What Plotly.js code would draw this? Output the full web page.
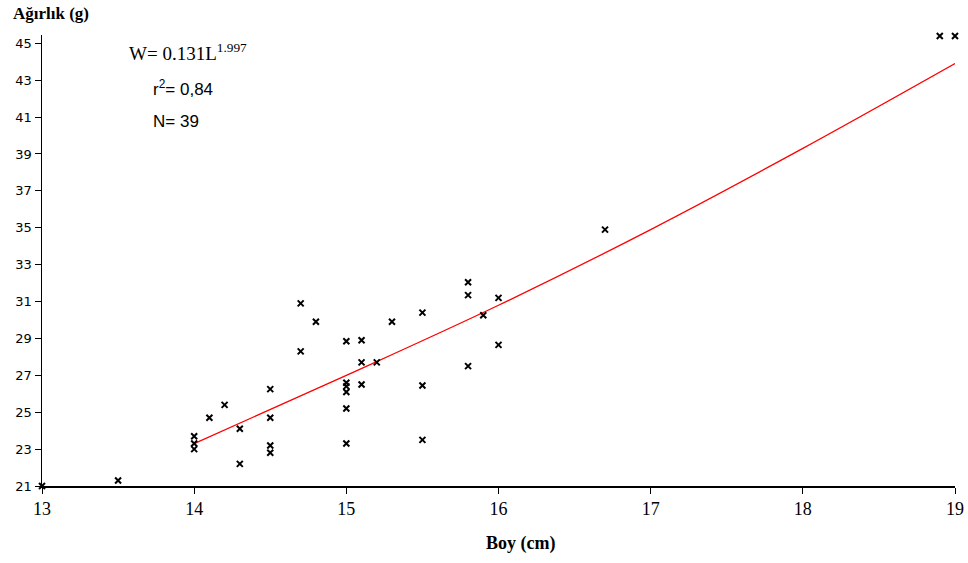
<!DOCTYPE html>
<html>
<head>
<meta charset="utf-8">
<script src="https://cdn.plot.ly/plotly-3.0.1.min.js"></script>
<style>html,body{margin:0;padding:0;background:#fff;}#chart{width:968px;height:563px;}</style>
</head>
<body>
<div id="chart"></div>
<script>
// Observed length (cm) and weight (g)
const boy = [13.0, 13.5, 14.0, 14.0, 14.0, 14.1, 14.2, 14.3, 14.3, 14.5, 14.5, 14.5, 14.5,
             14.7, 14.7, 14.8, 15.0, 15.0, 15.0, 15.0, 15.0, 15.0, 15.1, 15.1, 15.1, 15.2,
             15.3, 15.5, 15.5, 15.5, 15.8, 15.8, 15.8, 15.9, 16.0, 16.0, 16.7, 18.9, 19.0];
const agirlik = [21.0, 21.3, 23.7, 23.3, 23.0, 24.7, 25.4, 24.1, 22.2, 26.25, 24.7, 23.2, 22.8,
                 30.9, 28.3, 29.9, 28.85, 26.6, 26.4, 26.1, 25.2, 23.3, 28.9, 27.7, 26.5, 27.7,
                 29.9, 30.4, 26.45, 23.5, 32.05, 31.35, 27.5, 30.26, 31.2, 28.65, 34.9, 45.4, 45.4];
// Power trend line
const fitBoy = [14, 15, 16, 17, 18, 19];
const fitAgirlik = [23.3, 27.0, 30.8, 34.9, 39.3, 43.9];

const xTicks = [13, 14, 15, 16, 17, 18, 19];
const yTicks = [21, 23, 25, 27, 29, 31, 33, 35, 37, 39, 41, 43, 45];

const traces = [
  {
    x: fitBoy, y: fitAgirlik, type: 'scatter', mode: 'lines',
    line: {color: '#ff0000', width: 1.3, shape: 'spline'},
    hoverinfo: 'skip'
  },
  {
    x: boy, y: agirlik, type: 'scatter', mode: 'markers',
    marker: {symbol: 'x-thin', size: 6, color: '#000', line: {color: '#000', width: 2}},
    cliponaxis: false
  }
];

const layout = {
  width: 968, height: 563,
  margin: {l: 42, r: 13, t: 35, b: 77},
  paper_bgcolor: '#fff', plot_bgcolor: '#fff',
  showlegend: false,
  xaxis: {
    range: [13, 19], tickvals: xTicks, ticktext: xTicks.map(String),
    showgrid: false, zeroline: false, showline: true, linecolor: '#000', linewidth: 1.5,
    ticks: 'outside', ticklen: 6, tickwidth: 1, tickcolor: '#000',
    tickfont: {family: 'Liberation Serif, Times New Roman, serif', size: 18, color: '#000'}
  },
  yaxis: {
    range: [21, 45.45], tickvals: yTicks, ticktext: yTicks.map(String),
    showgrid: false, zeroline: false, showline: true, linecolor: '#000', linewidth: 1.5,
    ticks: 'outside', ticklen: 6, tickwidth: 1, tickcolor: '#000',
    tickfont: {family: 'DejaVu Sans, Verdana, sans-serif', size: 13, color: '#000'}
  },
  annotations: [
    {xref: 'paper', yref: 'paper', x: (11-42)/913, y: 1 + 21/451, xanchor: 'left', yanchor: 'middle',
     text: '<b>Ağırlık (g)</b>', showarrow: false,
     font: {family: 'Liberation Serif, Times New Roman, serif', size: 17, color: '#000'}},
    {xref: 'paper', yref: 'paper', x: (520-42)/913, y: -(543-486)/451, xanchor: 'center', yanchor: 'middle',
     text: '<b>Boy (cm)</b>', showarrow: false,
     font: {family: 'Liberation Serif, Times New Roman, serif', size: 18, color: '#000'}},
    {xref: 'paper', yref: 'paper', x: (127-42)/913, y: (486-52)/451, xanchor: 'left', yanchor: 'middle',
     text: 'W= 0.131L<sup>1.997</sup>', showarrow: false,
     font: {family: 'Liberation Serif, Times New Roman, serif', size: 19, color: '#000'}},
    {xref: 'paper', yref: 'paper', x: (151-42)/913, y: (486-88)/451, xanchor: 'left', yanchor: 'middle',
     text: 'r<sup>2</sup>= 0,84', showarrow: false,
     font: {family: 'Liberation Sans, Arial, sans-serif', size: 17, color: '#000'}},
    {xref: 'paper', yref: 'paper', x: (151-42)/913, y: (486-122)/451, xanchor: 'left', yanchor: 'middle',
     text: 'N= 39', showarrow: false,
     font: {family: 'Liberation Sans, Arial, sans-serif', size: 17, color: '#000'}}
  ]
};

Plotly.newPlot('chart', traces, layout, {displayModeBar: false, staticPlot: true});
</script>
</body>
</html>
